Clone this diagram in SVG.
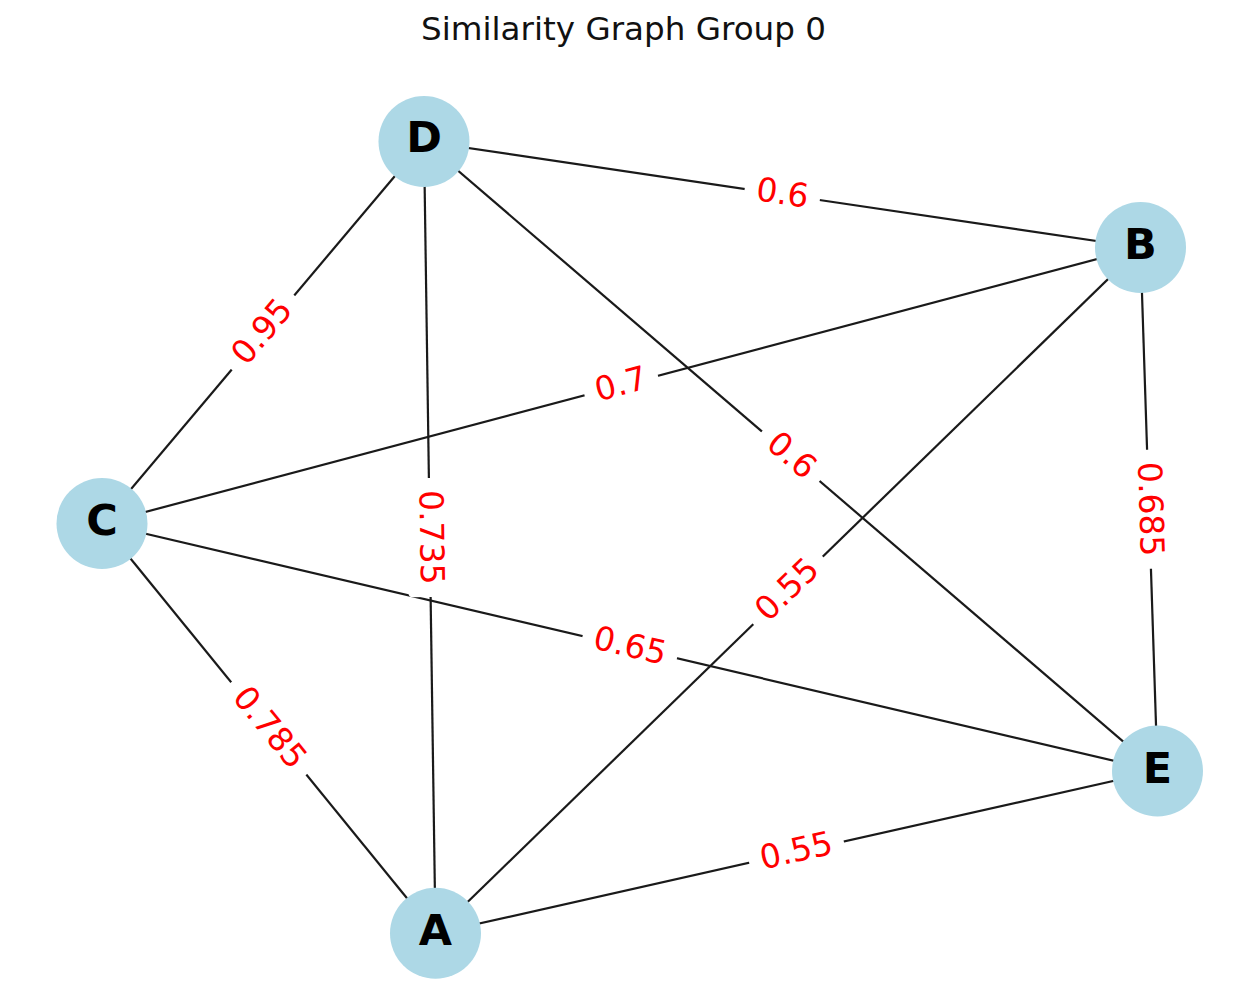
<svg xmlns="http://www.w3.org/2000/svg" width="1244" height="1007" viewBox="0 0 1244 1007">
<style>
.edge{stroke:#1a1a1a;stroke-width:2.2;fill:none}
.node circle{fill:#ADD8E6}
.node text{font-family:"DejaVu Sans",sans-serif;font-weight:bold;font-size:43px;fill:#000;text-anchor:middle}
.lbl rect{fill:#fff}
.lbl text{font-family:"DejaVu Sans",sans-serif;font-size:33px;fill:#ff0000;text-anchor:middle}
.title{font-family:"DejaVu Sans",sans-serif;font-size:32.6px;fill:#111;text-anchor:middle}
</style>
<rect width="1244" height="1007" fill="#fff"/>
<text class="title" x="623.5" y="40">Similarity Graph Group 0</text>
<g id="edges">
<line class="edge" x1="424" y1="141.5" x2="1140.5" y2="247.5"/>
<line class="edge" x1="424" y1="141.5" x2="102" y2="523.5"/>
<line class="edge" x1="424" y1="141.5" x2="435.5" y2="933.3"/>
<line class="edge" x1="424" y1="141.5" x2="1157.5" y2="771"/>
<line class="edge" x1="1140.5" y1="247.5" x2="102" y2="523.5"/>
<line class="edge" x1="1140.5" y1="247.5" x2="435.5" y2="933.3"/>
<line class="edge" x1="1140.5" y1="247.5" x2="1157.5" y2="771"/>
<line class="edge" x1="102" y1="523.5" x2="1157.5" y2="771"/>
<line class="edge" x1="102" y1="523.5" x2="435.5" y2="933.3"/>
<line class="edge" x1="435.5" y1="933.3" x2="1157.5" y2="771"/>
</g>
<g id="edge-labels">
<g class="lbl" transform="translate(782.25,194.5) rotate(8.42)"><rect x="-38" y="-22" width="76" height="44" rx="4"/><text y="9.5">0.6</text></g>
<g class="lbl" transform="translate(263,332.5) rotate(-49.87)"><rect x="-48.5" y="-22" width="97" height="44" rx="4"/><text y="9.5">0.95</text></g>
<g class="lbl" transform="translate(429.75,537.4) rotate(89.17)"><rect x="-59.5" y="-22" width="119" height="44" rx="4"/><text y="9.5">0.735</text></g>
<g class="lbl" transform="translate(790.75,456.25) rotate(40.63)"><rect x="-38" y="-22" width="76" height="44" rx="4"/><text y="9.5">0.6</text></g>
<g class="lbl" transform="translate(621.25,385.5) rotate(-14.88)"><rect x="-38" y="-22" width="76" height="44" rx="4"/><text y="9.5">0.7</text></g>
<g class="lbl" transform="translate(788,590.4) rotate(-44.21)"><rect x="-48.5" y="-22" width="97" height="44" rx="4"/><text y="9.5">0.55</text></g>
<g class="lbl" transform="translate(1149,509.25) rotate(88.14)"><rect x="-59.5" y="-22" width="119" height="44" rx="4"/><text y="9.5">0.685</text></g>
<g class="lbl" transform="translate(629.75,647.25) rotate(13.2)"><rect x="-48.5" y="-22" width="97" height="44" rx="4"/><text y="9.5">0.65</text></g>
<g class="lbl" transform="translate(268.75,728.4) rotate(50.86)"><rect x="-59.5" y="-22" width="119" height="44" rx="4"/><text y="9.5">0.785</text></g>
<g class="lbl" transform="translate(796.5,852.15) rotate(-12.67)"><rect x="-48.5" y="-22" width="97" height="44" rx="4"/><text y="9.5">0.55</text></g>
</g>
<g id="node-D" class="node"><circle cx="424" cy="141.5" r="45.5"/><text x="424" y="152.3">D</text></g>
<g id="node-B" class="node"><circle cx="1140.5" cy="247.5" r="45.5"/><text x="1140.5" y="259">B</text></g>
<g id="node-C" class="node"><circle cx="102" cy="523.5" r="45.5"/><text x="102" y="535">C</text></g>
<g id="node-E" class="node"><circle cx="1157.5" cy="771" r="45.5"/><text x="1157.5" y="782.5">E</text></g>
<g id="node-A" class="node"><circle cx="435.5" cy="933.3" r="45.5"/><text x="435.5" y="944.8">A</text></g>
</svg>
